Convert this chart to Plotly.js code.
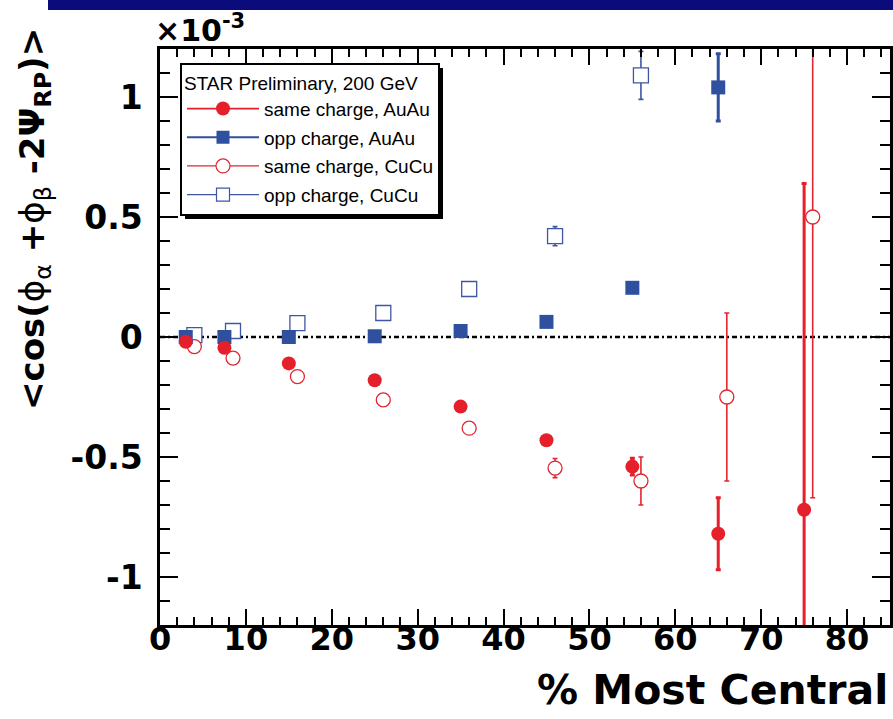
<!DOCTYPE html>
<html><head><meta charset="utf-8">
<script src="https://cdn.plot.ly/plotly-3.0.1.min.js"></script>
<style>html,body{margin:0;padding:0;background:#fff;}</style>
</head><body>
<div id="chart" style="width:893px;height:719px;"></div>
<script>
// ---- data (values in units of 1e-3) ----
const seriesNames = ['same charge, AuAu', 'opp charge, AuAu', 'same charge, CuCu', 'opp charge, CuCu'];

const sameAuX   = [3, 7.5, 15, 25, 35, 45, 55, 65, 75];
const sameAuY   = [-0.02, -0.045, -0.11, -0.18, -0.29, -0.43, -0.54, -0.82, -0.72];
const sameAuErr = [0.005, 0.005, 0.01, 0.01, 0.01, 0.015, 0.035, 0.15, 1.36];

const oppAuX    = [3, 7.5, 15, 25, 35, 45, 55, 65];
const oppAuY    = [0.0, 0.0, 0.0, 0.003, 0.025, 0.063, 0.205, 1.04];
const oppAuErr  = [0.005, 0.005, 0.005, 0.008, 0.008, 0.01, 0.02, 0.14];

const sameCuX   = [4, 8.5, 16, 26, 36, 46, 56, 66, 76];
const sameCuY   = [-0.04, -0.088, -0.165, -0.262, -0.38, -0.546, -0.6, -0.25, 0.5];
const sameCuErr = [0.005, 0.005, 0.008, 0.01, 0.015, 0.04, 0.1, 0.35, 1.17];

const oppCuX    = [4, 8.5, 16, 26, 36, 46, 56];
const oppCuY    = [0.008, 0.025, 0.058, 0.1, 0.2, 0.42, 1.09];
const oppCuErr  = [0.005, 0.005, 0.008, 0.01, 0.015, 0.04, 0.1];

const xTickVals = [0, 10, 20, 30, 40, 50, 60, 70, 80];
const xTickText = ['0', '10', '20', '30', '40', '50', '60', '70', '80'];
const yTickVals = [-1, -0.5, 0, 0.5, 1];
const yTickText = ['-1', '-0.5', '0', '0.5', '1'];

const legendTitle = 'STAR Preliminary, 200 GeV';
const xTitle = '% Most Central';
const yTitle = '&lt;cos(<span style="font-weight:normal">ϕ</span><sub><span style="font-weight:normal">α</span></sub> +<span style="font-weight:normal">ϕ</span><sub><span style="font-weight:normal">β</span></sub> -2Ψ<sub>RP</sub>)&gt;';
const scaleLabel = '×10<sup>-3</sup>';

// ---- geometry / style ----
const W = 893, H = 719;
const M = {l: 160, r: 3, t: 49, b: 94};
const PW = W - M.l - M.r, PH = H - M.t - M.b;
const px = x => (x - M.l) / PW;
const py = y => (H - M.b - y) / PH;

const RED = '#e5202a', RED_OPEN = '#e0262e', BLUE = '#2f4f9f', BLUE_OPEN = '#3f57a3';
const FONT = 'Liberation Sans, Arial, sans-serif';
const BOLD = 'DejaVu Sans, Liberation Sans, sans-serif';

function dataTrace(x, y, err, marker, errColor, errThick) {
  return {
    x: x, y: y, type: 'scatter', mode: 'markers', showlegend: false,
    marker: marker,
    error_y: {type: 'data', array: err, visible: true, color: errColor, thickness: errThick, width: 2.5},
    cliponaxis: true, hoverinfo: 'x+y'
  };
}
function legendTrace(name, marker, lineColor, lineWidth, grp) {
  return {
    x: [null], y: [null], type: 'scatter', mode: 'lines+markers', name: name,
    legendgroup: grp, marker: marker, line: {color: lineColor, width: lineWidth}
  };
}

const mSameAu = {symbol: 'circle', size: 14, color: RED, line: {width: 0}};
const mOppAu  = {symbol: 'square', size: 14, color: BLUE, line: {width: 0}};
const mSameCu = {symbol: 'circle', size: 14, color: '#ffffff', line: {color: RED_OPEN, width: 1.3}};
const mOppCu  = {symbol: 'square', size: 15, color: '#ffffff', line: {color: BLUE_OPEN, width: 1.3}};

const traces = [
  dataTrace(oppCuX, oppCuY, oppCuErr, mOppCu, BLUE_OPEN, 1.6),
  dataTrace(sameCuX, sameCuY, sameCuErr, mSameCu, RED_OPEN, 1.6),
  dataTrace(oppAuX, oppAuY, oppAuErr, mOppAu, BLUE, 3),
  dataTrace(sameAuX, sameAuY, sameAuErr, mSameAu, RED, 3),
  legendTrace(seriesNames[0], {symbol: 'circle', size: 14, color: RED}, RED, 1.8, 'g0'),
  legendTrace(seriesNames[1], {symbol: 'square', size: 13, color: BLUE}, BLUE, 1.8, 'g1'),
  legendTrace(seriesNames[2], {symbol: 'circle', size: 14, color: '#fff', line: {color: RED_OPEN, width: 1.2}}, RED_OPEN, 1.2, 'g2'),
  legendTrace(seriesNames[3], {symbol: 'square', size: 13, color: '#fff', line: {color: BLUE_OPEN, width: 1.2}}, BLUE_OPEN, 1.2, 'g3')
];

const axisCommon = {
  showline: true, linecolor: '#000', linewidth: 2.5, mirror: 'allticks',
  ticks: 'inside', tickcolor: '#000', tickwidth: 2, showgrid: false, zeroline: false,
  tickmode: 'array', fixedrange: true
};

const layout = {
  width: W, height: H, margin: M, paper_bgcolor: '#fff', plot_bgcolor: '#fff',
  font: {family: FONT, color: '#000'},
  xaxis: Object.assign({}, axisCommon, {
    range: [0, 85], tickvals: xTickVals, ticktext: xTickText, ticklen: 16,
    ticklabelstandoff: -16,
    tickfont: {family: BOLD, size: 32, weight: 'bold', color: '#000'},
    minor: {dtick: 2, tick0: 0, ticklen: 8, ticks: 'inside', tickcolor: '#000', tickwidth: 2}
  }),
  yaxis: Object.assign({}, axisCommon, {
    range: [-1.2, 1.2], tickvals: yTickVals, ticktext: yTickText, ticklen: 18,
    ticklabelstandoff: 8,
    tickfont: {family: BOLD, size: 33, weight: 'bold', color: '#000'},
    minor: {dtick: 0.1, tick0: 0, ticklen: 10, ticks: 'inside', tickcolor: '#000', tickwidth: 2}
  }),
  legend: {
    x: px(180), y: py(63), xanchor: 'left', yanchor: 'top',
    bgcolor: '#fff', bordercolor: '#000', borderwidth: 2,
    font: {family: FONT, size: 19, color: '#000'},
    title: {text: legendTitle, side: 'top', font: {family: FONT, size: 19, color: '#000'}},
    itemwidth: 72, tracegroupgap: 1, itemclick: false, itemdoubleclick: false
  },
  shapes: [
    {type: 'rect', xref: 'paper', yref: 'paper', x0: px(48), x1: px(893), y0: py(10), y1: py(0),
     fillcolor: '#0c0b7c', line: {width: 0}, layer: 'above'},
    {type: 'line', xref: 'paper', yref: 'y', x0: 0, x1: 1, y0: 0, y1: 0,
     line: {color: '#000', width: 2.5, dash: '5px,3px,2px,3px'}, layer: 'below'}
  ],
  annotations: [
    {text: yTitle, xref: 'paper', yref: 'paper', x: px(35), y: py(219), xanchor: 'center', yanchor: 'middle',
     textangle: -90, showarrow: false, font: {family: BOLD, size: 34, weight: 'bold', color: '#000'}},
    {text: xTitle, xref: 'paper', yref: 'paper', x: px(890), y: py(690), xanchor: 'right', yanchor: 'middle',
     showarrow: false, font: {family: BOLD, size: 41, weight: 'bold', color: '#000'}},
    {text: scaleLabel, xref: 'paper', yref: 'paper', x: px(153), y: py(50), xanchor: 'left', yanchor: 'bottom',
     showarrow: false, font: {family: BOLD, size: 30, weight: 'bold', color: '#000'}}
  ]
};

Plotly.newPlot('chart', traces, layout, {displayModeBar: false}).then(gd => {
  const bg = gd.querySelector('.legend .bg');
  if (!bg) return;
  const r = bg.getBoundingClientRect();
  const c = gd.getBoundingClientRect();
  const x0 = r.left - c.left, x1 = r.right - c.left, y0 = r.top - c.top, y1 = r.bottom - c.top;
  const off = 4;
  const shadow = {type: 'rect', xref: 'paper', yref: 'paper',
    x0: px(x0 + off), x1: px(x1 + off), y0: py(y1 + off), y1: py(y0 + off),
    fillcolor: '#000', line: {width: 0}, layer: 'above'};
  Plotly.relayout(gd, {shapes: layout.shapes.concat([shadow])});
});
</script>
</body></html>
